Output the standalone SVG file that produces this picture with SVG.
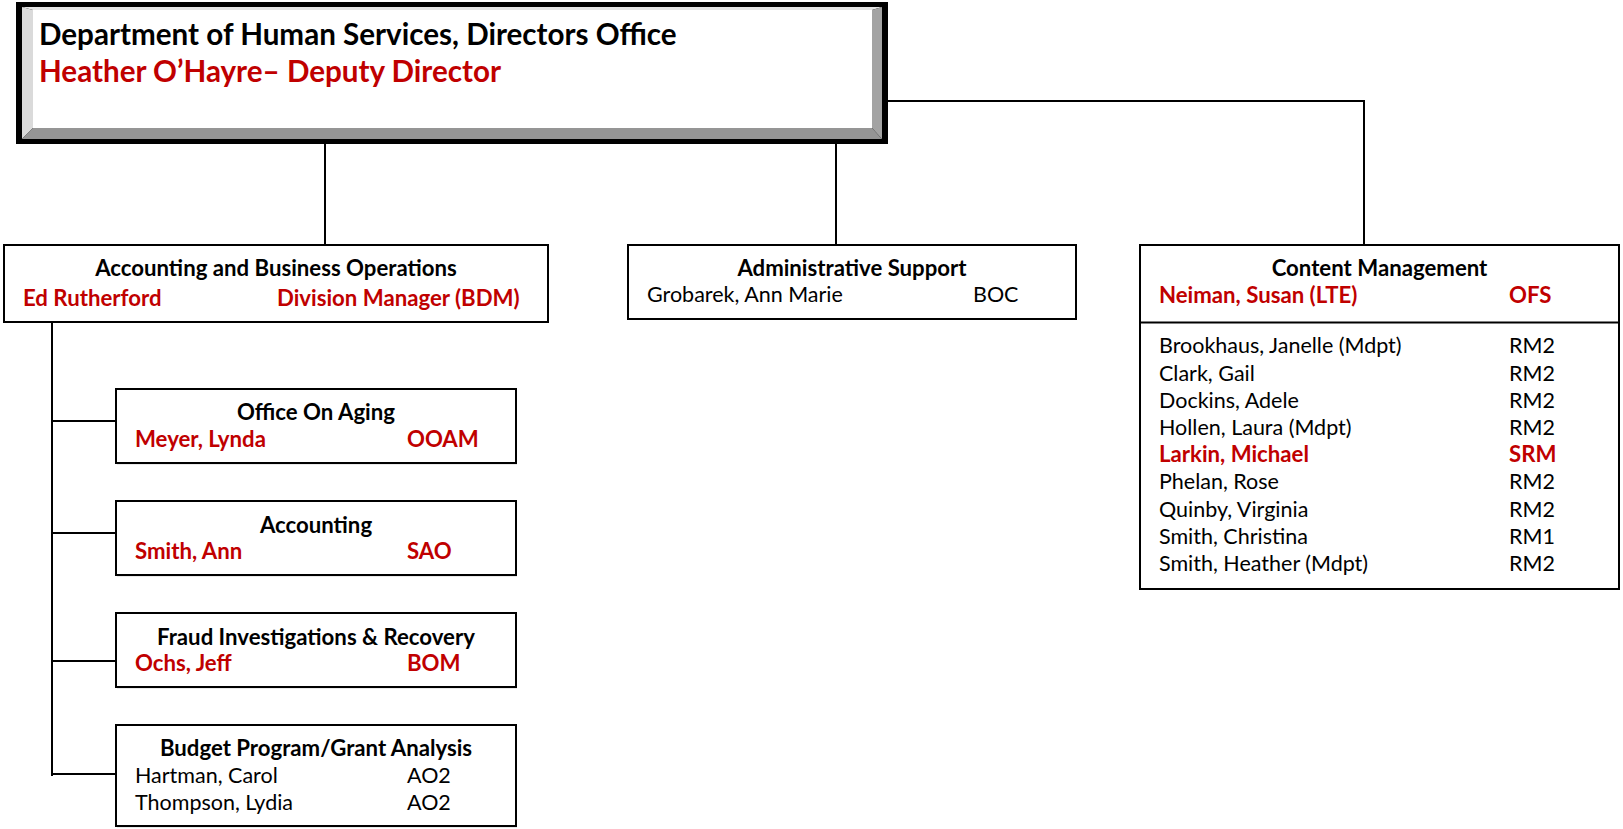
<svg xmlns="http://www.w3.org/2000/svg" width="1623" height="829" viewBox="0 0 1623 829">
<style>
  .box { fill: #ffffff; stroke: #000000; stroke-width: 2; }
  .shadow { fill: #d4d4d4; }
  .conn { stroke: #000000; stroke-width: 2; fill: none; stroke-linecap: square; }
  text { font-family: Lato, "Liberation Sans", sans-serif; }
  .title { font-size: 29.6px; font-weight: bold; fill: #000000; }
  .titlered { font-size: 29.6px; font-weight: bold; fill: #C00000; }
  .head { font-size: 22.2px; font-weight: bold; fill: #000000; text-anchor: middle; }
  .red { font-size: 22.2px; font-weight: bold; fill: #C00000; }
  .txt { font-size: 21.5px; fill: #000000; }
</style>
<rect width="1623" height="829" fill="#ffffff"/>

<g id="connectors">
  <line class="conn" x1="325" y1="144" x2="325" y2="245"/>
  <line class="conn" x1="836" y1="144" x2="836" y2="245"/>
  <polyline class="conn" points="888,101 1364,101 1364,245"/>
  <line class="conn" x1="52" y1="322" x2="52" y2="775"/>
  <line class="conn" x1="52" y1="421" x2="116" y2="421"/>
  <line class="conn" x1="52" y1="533" x2="116" y2="533"/>
  <line class="conn" x1="52" y1="661" x2="116" y2="661"/>
  <line class="conn" x1="52" y1="774" x2="116" y2="774"/>
</g>

<g id="director">
  <rect x="16" y="2" width="872" height="142" fill="#000000"/>
  <polygon points="22,7 882,7 872,10 33,10" fill="#e4e4e4"/>
  <polygon points="22,7 33,10 33,128 22,139" fill="#dadada"/>
  <polygon points="882,7 882,139 872,128 872,10" fill="#a3a3a3"/>
  <polygon points="22,139 882,139 872,128 33,128" fill="#959595"/>
  <rect x="33" y="10" width="839" height="118" fill="#ffffff"/>
  <text class="title" x="39" y="45">Department of Human Services, Directors Office</text>
  <text class="titlered" x="39" y="82">Heather O’Hayre– Deputy Director</text>
</g>

<g id="accounting-business">
  <rect class="box" x="4" y="245" width="544" height="77"/>
  <text class="head" x="276" y="276">Accounting and Business Operations</text>
  <text class="red" x="23" y="306">Ed Rutherford</text>
  <text class="red" x="277" y="306">Division Manager (BDM)</text>
</g>

<g id="admin-support">
  <rect class="box" x="628" y="245" width="448" height="74"/>
  <text class="head" x="852" y="276">Administrative Support</text>
  <text class="txt" x="647" y="302">Grobarek, Ann Marie</text>
  <text class="txt" x="973" y="302">BOC</text>
</g>

<g id="content-management">
  <rect class="box" x="1140" y="245" width="479" height="344"/>
  <line x1="1140" y1="322.5" x2="1619" y2="322.5" stroke="#000000" stroke-width="2"/>
  <text class="head" x="1379.5" y="276">Content Management</text>
  <text class="red" x="1159" y="302.5">Neiman, Susan (LTE)</text>
  <text class="red" x="1509" y="302.5">OFS</text>
  <text class="txt" x="1159" y="353.3">Brookhaus, Janelle (Mdpt)</text>
  <text class="txt" x="1509" y="353.3">RM2</text>
  <text class="txt" x="1159" y="380.5">Clark, Gail</text>
  <text class="txt" x="1509" y="380.5">RM2</text>
  <text class="txt" x="1159" y="407.7">Dockins, Adele</text>
  <text class="txt" x="1509" y="407.7">RM2</text>
  <text class="txt" x="1159" y="434.9">Hollen, Laura (Mdpt)</text>
  <text class="txt" x="1509" y="434.9">RM2</text>
  <text class="red" x="1159" y="462.1">Larkin, Michael</text>
  <text class="red" x="1509" y="462.1">SRM</text>
  <text class="txt" x="1159" y="489.3">Phelan, Rose</text>
  <text class="txt" x="1509" y="489.3">RM2</text>
  <text class="txt" x="1159" y="516.5">Quinby, Virginia</text>
  <text class="txt" x="1509" y="516.5">RM2</text>
  <text class="txt" x="1159" y="543.7">Smith, Christina</text>
  <text class="txt" x="1509" y="543.7">RM1</text>
  <text class="txt" x="1159" y="570.9">Smith, Heather (Mdpt)</text>
  <text class="txt" x="1509" y="570.9">RM2</text>
</g>

<g id="office-on-aging">
  <rect class="shadow" x="117" y="390.5" width="400" height="74"/>
  <rect class="box" x="116" y="389" width="400" height="74"/>
  <text class="head" x="316" y="420">Office On Aging</text>
  <text class="red" x="135" y="447">Meyer, Lynda</text>
  <text class="red" x="407" y="447">OOAM</text>
</g>

<g id="accounting">
  <rect class="shadow" x="117" y="502.5" width="400" height="74"/>
  <rect class="box" x="116" y="501" width="400" height="74"/>
  <text class="head" x="316" y="532.5">Accounting</text>
  <text class="red" x="135" y="559">Smith, Ann</text>
  <text class="red" x="407" y="559">SAO</text>
</g>

<g id="fraud">
  <rect class="shadow" x="117" y="614.5" width="400" height="74"/>
  <rect class="box" x="116" y="613" width="400" height="74"/>
  <text class="head" x="316" y="644.5">Fraud Investigations &amp; Recovery</text>
  <text class="red" x="135" y="671">Ochs, Jeff</text>
  <text class="red" x="407" y="671">BOM</text>
</g>

<g id="budget">
  <rect class="shadow" x="117" y="726.5" width="400" height="101"/>
  <rect class="box" x="116" y="725" width="400" height="101"/>
  <text class="head" x="316" y="756">Budget Program/Grant Analysis</text>
  <text class="txt" x="135" y="783.3">Hartman, Carol</text>
  <text class="txt" x="407" y="783.3">AO2</text>
  <text class="txt" x="135" y="810">Thompson, Lydia</text>
  <text class="txt" x="407" y="810">AO2</text>
</g>
</svg>
